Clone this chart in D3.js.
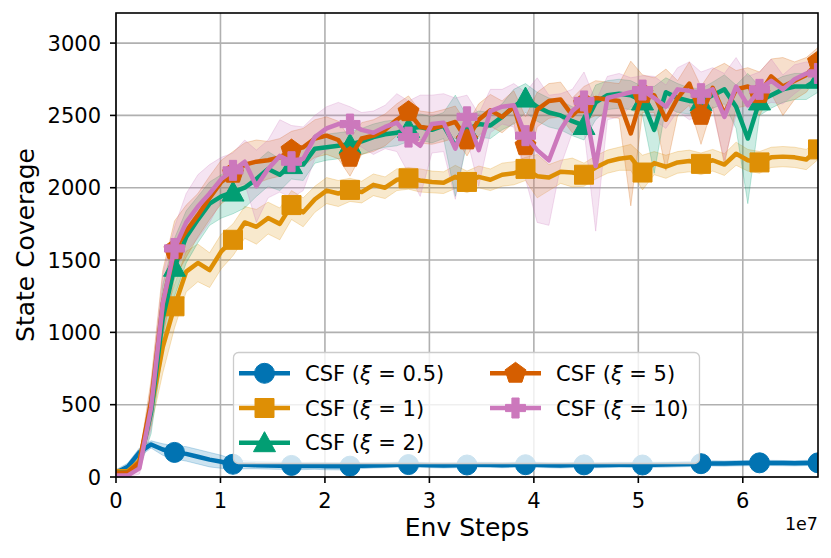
<!DOCTYPE html>
<html><head><meta charset="utf-8">
<script src="https://cdn.jsdelivr.net/npm/d3@7"></script>
<style>body{margin:0;background:#fff}svg{display:block}text{font-family:"DejaVu Sans",sans-serif}</style>
</head><body>
<svg id="c" width="831" height="558"></svg>
<script>
// ---- data (Env Steps every 1.12e6) ----
const stepSize = 1.12e6;
const xTicks = [0, 1e7, 2e7, 3e7, 4e7, 5e7, 6e7];
const xTickLabels = ["0", "1", "2", "3", "4", "5", "6"];
const yTicks = [0, 500, 1000, 1500, 2000, 2500, 3000];
const seriesNames = ["CSF (ξ = 0.5)", "CSF (ξ = 1)", "CSF (ξ = 2)", "CSF (ξ = 5)", "CSF (ξ = 10)"];
const xiLabels = ["0.5", "1", "2", "5", "10"];

const meanXi05 = [30,70,170,225,190,170,160,140,120,105,88,85,82,80,78,80,76,78,75,74,75,78,80,82,85,86,84,82,80,82,83,85,84,82,84,85,84,82,80,83,84,82,83,85,84,83,85,86,88,90,92,94,93,95,96,98,97,96,95,97,98];
const sprdXi05 = [20,25,30,25,40,45,50,50,50,45,35,28,25,25,25,25,25,25,25,25,25,20,18,18,18,18,18,18,18,18,18,18,18,18,18,18,18,18,18,18,18,18,18,18,18,18,18,18,18,18,18,18,18,18,18,18,18,18,18,18,18];

const meanXi1 = [40,40,110,470,900,1180,1420,1480,1430,1560,1640,1760,1730,1790,1750,1880,1830,1920,1980,1960,1985,1970,2020,2000,2055,2065,2050,2040,2035,2075,2040,2075,2055,2090,2100,2130,2080,2070,2110,2105,2090,2140,2180,2200,2210,2105,2170,2145,2175,2185,2165,2190,2160,2235,2190,2175,2210,2215,2210,2195,2265];
const sprdXi1 = [15,20,40,120,180,150,140,130,120,120,110,110,120,110,110,100,100,90,90,90,80,75,75,75,75,75,80,75,75,80,75,75,75,80,80,80,150,90,80,100,80,80,80,80,90,120,80,80,75,75,75,75,75,80,75,75,70,70,70,70,70];

const meanXi2 = [30,30,90,450,1100,1450,1660,1780,1890,1940,1970,2000,2060,2130,2090,2160,2160,2270,2280,2290,2300,2320,2350,2370,2380,2410,2420,2400,2430,2290,2400,2440,2430,2490,2560,2620,2560,2520,2500,2460,2430,2590,2640,2650,2640,2600,2400,2660,2620,2600,2595,2640,2680,2560,2340,2600,2640,2680,2700,2700,2750];
const sprdXi2 = [10,15,40,150,230,200,180,160,150,150,150,140,120,120,110,100,110,100,90,90,90,90,90,90,90,90,90,90,90,350,90,90,90,90,120,100,100,100,100,100,100,120,100,100,100,100,300,100,100,90,90,90,100,150,450,100,90,90,90,90,90];

const meanXi5 = [30,30,100,520,1200,1570,1700,1810,1930,2040,2100,2160,2180,2190,2210,2260,2280,2340,2360,2330,2210,2340,2360,2400,2470,2525,2420,2410,2430,2455,2330,2470,2535,2490,2560,2290,2540,2600,2610,2500,2580,2620,2610,2600,2375,2650,2640,2470,2620,2720,2500,2690,2510,2680,2700,2650,2770,2700,2740,2780,2870];
const sprdXi5 = [10,15,40,150,230,200,180,150,150,150,150,150,150,130,130,130,130,130,130,130,130,110,110,110,110,110,110,110,110,110,110,110,110,110,110,200,120,120,120,120,120,120,120,120,500,130,120,350,120,150,200,130,350,130,130,150,120,200,130,120,100];

const meanXi10 = [10,10,60,480,1200,1580,1760,1870,1960,2060,2120,2180,2010,2130,2220,2180,2200,2350,2410,2440,2440,2400,2380,2420,2450,2350,2290,2440,2450,2270,2490,2260,2530,2560,2570,2360,2260,2190,2400,2530,2600,2150,2620,2640,2660,2675,2620,2560,2680,2670,2650,2680,2490,2700,2570,2680,2740,2680,2750,2790,2790];
const sprdXi10 = [10,15,40,150,200,150,200,220,200,150,120,150,250,200,250,250,220,150,150,150,120,120,150,150,200,250,350,200,200,350,150,250,150,120,150,300,500,450,250,150,200,450,150,150,100,100,150,150,150,200,150,150,300,200,200,120,150,100,100,80,80];

const colors = ["#0173B2", "#DE8F05", "#029E73", "#D55E00", "#CC78BC"];
const markerKinds = ["circle", "square", "triangle", "pentagon", "plus"];
const means = [meanXi05, meanXi1, meanXi2, meanXi5, meanXi10];
const spreads = [sprdXi05, sprdXi1, sprdXi2, sprdXi5, sprdXi10];
const markEvery = 5;

// ---- layout ----
const svg = d3.select("#c");
const L = 116, R = 818, T = 13, B = 477;
const x = d3.scaleLinear().domain([0, 6.72e7]).range([L, R]);
const y = d3.scaleLinear().domain([0, 3208]).range([B, T]);

svg.append("defs").append("clipPath").attr("id", "clip")
  .append("rect").attr("x", L).attr("y", T).attr("width", R - L).attr("height", B - T);

// grid
const grid = svg.append("g");
grid.selectAll(".gx").data(xTicks).join("line")
  .attr("x1", d => x(d)).attr("x2", d => x(d)).attr("y1", T).attr("y2", B)
  .attr("stroke", "#b0b0b0").attr("stroke-width", 1.6);
grid.selectAll(".gy").data(yTicks).join("line")
  .attr("y1", d => y(d)).attr("y2", d => y(d)).attr("x1", L).attr("x2", R)
  .attr("stroke", "#b0b0b0").attr("stroke-width", 1.6);

// marker paths
function markerPath(kind) {
  if (kind === "circle") return d3.symbol(d3.symbolCircle, Math.PI * 10 * 10)();
  if (kind === "square") return "M-9.5,-9.5H9.5V9.5H-9.5Z";
  if (kind === "triangle") return "M0,-11L11,9L-11,9Z";
  if (kind === "pentagon") {
    const pts = d3.range(5).map(k => { const a = -Math.PI / 2 + k * 2 * Math.PI / 5; return [11 * Math.cos(a), 11 * Math.sin(a)]; });
    return "M" + pts.map(p => p.join(",")).join("L") + "Z";
  }
  const a = 10, w = 3.6;
  return `M${-w},${-a}H${w}V${-w}H${a}V${w}H${w}V${a}H${-w}V${w}H${-a}V${-w}H${-w}Z`;
}

const plot = svg.append("g").attr("clip-path", "url(#clip)");
means.forEach((m, si) => {
  const pts = m.map((v, i) => ({ x: i * stepSize, v, s: spreads[si][i] }));
  plot.append("path").datum(pts)
    .attr("d", d3.area().x(d => x(d.x)).y0(d => y(Math.max(0, d.v - d.s))).y1(d => y(d.v + d.s)))
    .attr("fill", colors[si]).attr("fill-opacity", 0.2)
    .attr("stroke", colors[si]).attr("stroke-opacity", 0.25).attr("stroke-width", 1);
});
means.forEach((m, si) => {
  const pts = m.map((v, i) => ({ x: i * stepSize, v }));
  plot.append("path").datum(pts)
    .attr("d", d3.line().x(d => x(d.x)).y(d => y(d.v)))
    .attr("fill", "none").attr("stroke", colors[si]).attr("stroke-width", 4.5).attr("stroke-linejoin", "round");
  const mk = pts.filter((d, i) => i > 0 && i % markEvery === 0);
  plot.selectAll(null).data(mk).join("path")
    .attr("d", markerPath(markerKinds[si]))
    .attr("transform", d => `translate(${x(d.x)},${y(d.v)})`)
    .attr("fill", colors[si]).attr("stroke", colors[si]).attr("stroke-width", 1);
});

// frame
svg.append("rect").attr("x", L).attr("y", T).attr("width", R - L).attr("height", B - T)
  .attr("fill", "none").attr("stroke", "#000").attr("stroke-width", 1.6);

// axes ticks
const xAxis = svg.append("g");
xTicks.forEach((t, i) => {
  xAxis.append("line").attr("x1", x(t)).attr("x2", x(t)).attr("y1", B).attr("y2", B + 6).attr("stroke", "#000").attr("stroke-width", 1.6);
  xAxis.append("text").attr("x", x(t)).attr("y", B + 31).attr("text-anchor", "middle").attr("font-size", 21).text(xTickLabels[i]);
});
yTicks.forEach(t => {
  xAxis.append("line").attr("x1", L - 6).attr("x2", L).attr("y1", y(t)).attr("y2", y(t)).attr("stroke", "#000").attr("stroke-width", 1.6);
  xAxis.append("text").attr("x", L - 15).attr("y", y(t)).attr("dy", "0.36em").attr("text-anchor", "end").attr("font-size", 21).text(t);
});
svg.append("text").attr("x", R).attr("y", 530).attr("text-anchor", "end").attr("font-size", 17.5).text("1e7");
svg.append("text").attr("x", (L + R) / 2).attr("y", 536).attr("text-anchor", "middle").attr("font-size", 25).text("Env Steps");
svg.append("text").attr("transform", `translate(34,${(T + B) / 2}) rotate(-90)`).attr("text-anchor", "middle").attr("font-size", 25).text("State Coverage");

// legend
const lg = svg.append("g");
lg.append("rect").attr("x", 233.5).attr("y", 352.5).attr("width", 466).attr("height", 111).attr("rx", 5)
  .attr("fill", "#fff").attr("fill-opacity", 0.8).attr("stroke", "#cccccc").attr("stroke-width", 1.3);
const rowY = [373.3, 408, 442.7];
seriesNames.forEach((name, si) => {
  const col = si < 3 ? 0 : 1, row = si < 3 ? si : si - 3;
  const hx = col === 0 ? 239 : 490, tx = col === 0 ? 305 : 556;
  const yy = rowY[row];
  lg.append("line").attr("x1", hx).attr("x2", hx + 51).attr("y1", yy).attr("y2", yy).attr("stroke", colors[si]).attr("stroke-width", 4.5);
  lg.append("path").attr("d", markerPath(markerKinds[si])).attr("transform", `translate(${hx + 25.5},${yy})`)
    .attr("fill", colors[si]).attr("stroke", colors[si]).attr("stroke-width", 1);
  const t = lg.append("text").attr("x", tx).attr("y", yy).attr("dy", "0.36em").attr("font-size", 21);
  t.append("tspan").text("CSF (");
  t.append("tspan").attr("font-style", "italic").text("ξ");
  t.append("tspan").text(" = " + xiLabels[si] + ")");
});
</script>
</body></html>
